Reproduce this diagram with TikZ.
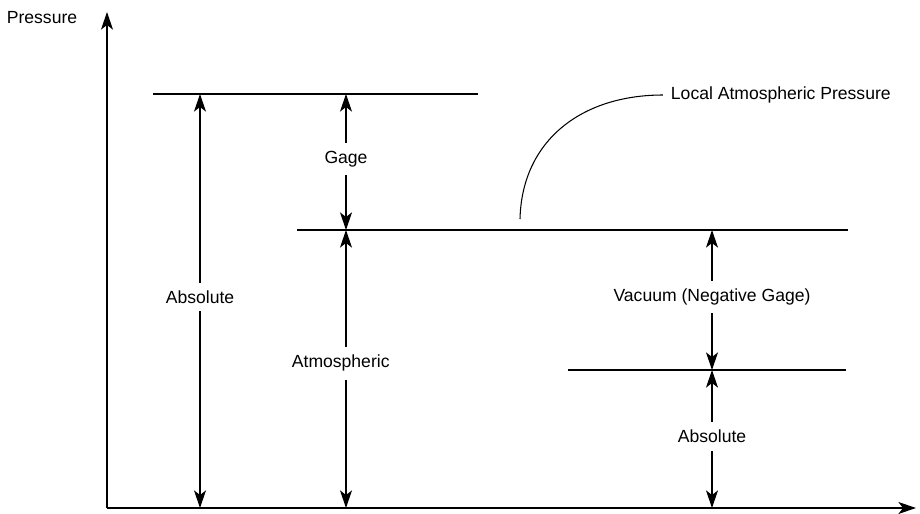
\documentclass[tikz,border=0pt]{standalone}
\usepackage{fontspec}
\setmainfont{Liberation Sans}
\usetikzlibrary{arrows.meta}

\begin{document}
\begin{tikzpicture}[x=0.02cm,y=-0.02cm,>={Stealth[length=10pt,width=6.8pt,inset=2.6pt]},
  line width=1.1pt,font=\fontsize{10}{12}\selectfont,
  lbl/.style={fill=white,inner sep=4.5pt}]
\useasboundingbox (0,0) rectangle (920,514);
% axes
\coordinate (origin) at (107,508);
\coordinate (ytop) at (107,12);
\coordinate (xend) at (916,508);
\draw[->] (origin) -- (ytop);
\draw[->] (origin) -- (xend);
\node (ylabel) at (42,18) {Pressure};
% pressure levels
\coordinate (gageL) at (153,94);
\coordinate (gageR) at (478,94);
\coordinate (atmL) at (297,230);
\coordinate (atmR) at (848,230);
\coordinate (vacL) at (568,370);
\coordinate (vacR) at (846,370);
\draw (gageL) -- (gageR);
\draw (atmL) -- (atmR);
\draw (vacL) -- (vacR);
% arrows between levels
\coordinate (absTop) at (200,94);
\coordinate (absBot) at (200,508);
\coordinate (gageTop) at (346,94);
\coordinate (gageBot) at (346,230);
\coordinate (atmBot) at (346,508);
\coordinate (vacTop) at (712,230);
\coordinate (vacBot) at (712,370);
\coordinate (vabsBot) at (712,508);
\draw[<->] (absBot) -- (absTop) node[lbl,pos=0.51] (absolute) {Absolute};
\draw[<->] (gageBot) -- (gageTop) node[lbl,pos=0.52] (gage) {Gage};
\draw[<->] (atmBot) -- (gageBot) node[lbl,pos=0.52,xshift=-3pt] (atmos) {Atmospheric};
\draw[<->] (vacBot) -- (vacTop) node[lbl,pos=0.52] (vacuum) {Vacuum (Negative Gage)};
\draw[<->] (vabsBot) -- (vacBot) node[lbl,pos=0.52] (vabs) {Absolute};
% callout
\node[anchor=west,inner sep=0pt] (local) at (670,95) {Local Atmospheric Pressure};
\coordinate (callout) at (520,219);
\draw[line width=0.6pt] (callout) .. controls (522,140) and (582,95) .. ([xshift=-4pt]local.west);
\end{tikzpicture}
\end{document}
